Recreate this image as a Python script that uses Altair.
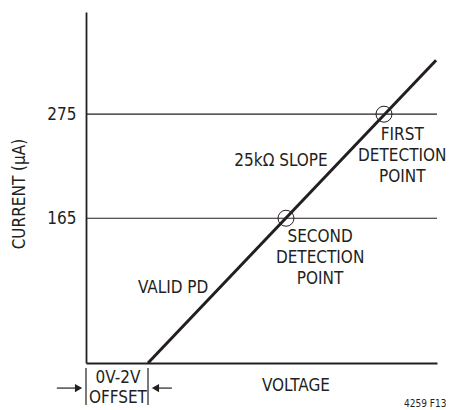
import altair as alt
import pandas as pd

# ---- data ----
line_voltage = [2.0, 11.29]          # V
line_current = [12, 332]             # uA
detect_names = ["FIRST", "SECOND"]
detect_current = [275, 165]          # uA
detect_voltage = [9.61, 6.45]        # V
y_ticks = [165, 275]

X_MAX = 11.32
Y_MIN, Y_MAX = 12, 383

FONT = "DejaVu Sans Condensed, Roboto, sans-serif"
INK = "#231F20"
FS = 17

xs = alt.Scale(domain=[0, X_MAX], nice=False, zero=False)
ys = alt.Scale(domain=[Y_MIN, Y_MAX], nice=False, zero=False)

line_df = pd.DataFrame({"v": line_voltage, "i": line_current})
det_df = pd.DataFrame({"name": detect_names, "v": detect_voltage, "i": detect_current})
hl_df = pd.DataFrame({"i": detect_current, "v0": [0, 0], "v1": [X_MAX, X_MAX]})

base_axis_y = alt.Axis(values=y_ticks, ticks=False, grid=False, labelPadding=10,
                       labelFontSize=FS, labelFont=FONT, labelColor=INK,
                       domainColor=INK, domainWidth=1.8, title=None)
base_axis_x = alt.Axis(labels=False, ticks=False, grid=False, domainColor=INK,
                       domainWidth=1.8, title=None)

hlines = alt.Chart(hl_df).mark_rule(color=INK, strokeWidth=1.2).encode(
    x=alt.X("v0:Q", scale=xs, axis=base_axis_x),
    x2="v1:Q",
    y=alt.Y("i:Q", scale=ys, axis=base_axis_y),
)

diag = alt.Chart(line_df).mark_line(color=INK, strokeWidth=3).encode(
    x=alt.X("v:Q", scale=xs), y=alt.Y("i:Q", scale=ys)
)

circles = alt.Chart(det_df).mark_point(shape="circle", size=256, filled=False,
                                       color=INK, strokeWidth=1, opacity=1).encode(
    x=alt.X("v:Q", scale=xs), y=alt.Y("i:Q", scale=ys)
)

# annotations (text, voltage, current)
ann_text = ["25k\u03a9 SLOPE", "FIRST", "DETECTION", "POINT", "SECOND", "DETECTION", "POINT",
            "VALID PD", "VOLTAGE", "0V-2V", "OFFSET"]
ann_v = [6.29, 10.2, 10.2, 10.2, 7.55, 7.55, 7.55, 2.81, 6.77, 1.03, 1.03]
ann_i = [226, 253, 231, 209, 145, 123, 101, 91, -12.3, -3.9, -25]
ann_df = pd.DataFrame({"t": ann_text, "v": ann_v, "i": ann_i})

texts = alt.Chart(ann_df).mark_text(font=FONT, fontSize=FS, color=INK,
                                    align="center", baseline="middle").encode(
    x=alt.X("v:Q", scale=xs), y=alt.Y("i:Q", scale=ys), text="t:N"
)

ytitle = alt.Chart(pd.DataFrame({"t": ["CURRENT (\u00b5A)"], "v": [-2.13], "i": [190.6]})).mark_text(
    font=FONT, fontSize=FS, color=INK, angle=270, align="center", baseline="middle").encode(
    x=alt.X("v:Q", scale=xs), y=alt.Y("i:Q", scale=ys), text="t:N"
)

fig = alt.Chart(pd.DataFrame({"t": ["4259 F13"], "v": [10.94], "i": [-31]})).mark_text(
    font=FONT, fontSize=10, color=INK, align="center", baseline="middle").encode(
    x=alt.X("v:Q", scale=xs), y=alt.Y("i:Q", scale=ys), text="t:N"
)

# offset bracket: vertical bars and arrows
bar_df = pd.DataFrame({"v": [0, 2.0], "i0": [6.7, 6.7], "i1": [-32.4, -32.4]})
bars = alt.Chart(bar_df).mark_rule(color=INK, strokeWidth=1.2).encode(
    x=alt.X("v:Q", scale=xs), y=alt.Y("i0:Q", scale=ys), y2="i1:Q"
)
arr_df = pd.DataFrame({"a": [-0.94, 2.77], "b": [-0.35, 2.35], "i": [-14.5, -14.5]})
shafts = alt.Chart(arr_df).mark_rule(color=INK, strokeWidth=1.2).encode(
    x=alt.X("a:Q", scale=xs), x2="b:Q", y=alt.Y("i:Q", scale=ys)
)
head_df = pd.DataFrame({"v": [-0.24, 2.24], "i": [-14.5, -14.5],
                        "s": ["triangle-right", "triangle-left"]})
heads = alt.Chart(head_df).mark_point(filled=True, color=INK, size=70, opacity=1).encode(
    x=alt.X("v:Q", scale=xs), y=alt.Y("i:Q", scale=ys),
    shape=alt.Shape("s:N", scale=None, legend=None)
)

chart = alt.layer(hlines, diag, circles, texts, ytitle, fig, bars, shafts, heads).properties(
    width=351, height=351,
    padding={"left": 78, "top": 4, "right": 9, "bottom": 47},
    autosize="none",
    background="white",
).configure_view(stroke=None)

chart.save("out.html", embed_options={"renderer": "svg", "actions": False})
